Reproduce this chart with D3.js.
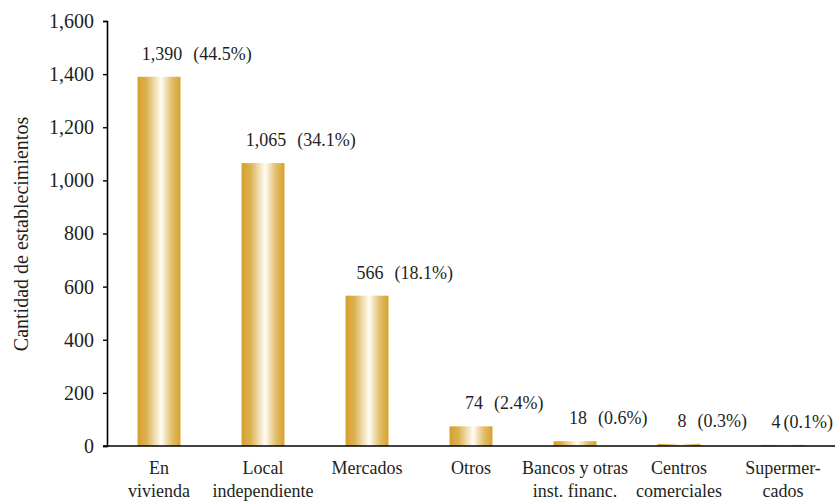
<!DOCTYPE html>
<html>
<head>
<meta charset="utf-8">
<script src="https://cdn.jsdelivr.net/npm/d3@7"></script>
<style>
  html, body { margin: 0; padding: 0; background: #fff; }
  svg { display: block; }
  text { font-family: "Liberation Serif", "Times New Roman", serif; fill: #231f20; }
</style>
</head>
<body>
<svg id="chart" width="835" height="501"></svg>
<script>
const categories = ["En|vivienda", "Local|independiente", "Mercados", "Otros", "Bancos y otras|inst. financ.", "Centros|comerciales", "Supermer-|cados"];
const values = [1390, 1065, 566, 74, 18, 8, 4];
const valueLabels = ["1,390", "1,065", "566", "74", "18", "8", "4"];
const pctLabels = ["(44.5%)", "(34.1%)", "(18.1%)", "(2.4%)", "(0.6%)", "(0.3%)", "(0.1%)"];
const yTicks = [0, 200, 400, 600, 800, 1000, 1200, 1400, 1600];
const yTitle = "Cantidad de establecimientos";

const svg = d3.select("#chart");
const mLeft = 107, mRight = 835, mTop = 21, mBottom = 446;

const x = d3.scaleBand().domain(categories).range([mLeft, mRight]).paddingInner(0.587).paddingOuter(0.2935);
const y = d3.scaleLinear().domain([0, 1600]).range([mBottom, mTop]);

const defs = svg.append("defs");
const grad = defs.append("linearGradient").attr("id", "gold").attr("x1", "0%").attr("x2", "100%").attr("y1", "0%").attr("y2", "0%");
grad.append("stop").attr("offset", "0%").attr("stop-color", "#d6a12c");
grad.append("stop").attr("offset", "20%").attr("stop-color", "#dcb04e");
grad.append("stop").attr("offset", "55%").attr("stop-color", "#fffdf6");
grad.append("stop").attr("offset", "80%").attr("stop-color", "#e2bd6a");
grad.append("stop").attr("offset", "100%").attr("stop-color", "#d6a12c");

// bars
svg.append("g").selectAll("rect").data(values).join("rect")
  .attr("x", (d, i) => x(categories[i]))
  .attr("width", x.bandwidth())
  .attr("y", d => y(d))
  .attr("height", d => y(0) - y(d))
  .attr("fill", "url(#gold)");

// y axis
const yAxis = d3.axisLeft(y).tickValues(yTicks).tickSize(4).tickPadding(9).tickFormat(d3.format(","));
const gy = svg.append("g").attr("transform", `translate(${mLeft},0)`).call(yAxis);
gy.select(".domain").attr("stroke", "#000").attr("stroke-width", 1.6);
gy.selectAll(".tick line").attr("stroke", "#000").attr("stroke-width", 1.4);
gy.selectAll(".tick text").style("font-size", "20px").style("font-family", "'Liberation Serif', serif").attr("fill", "#231f20");

// x axis line
svg.append("line").attr("x1", mLeft - 4).attr("x2", mRight).attr("y1", y(0)).attr("y2", y(0))
  .attr("stroke", "#000").attr("stroke-width", 1.6);

// category labels
const cat = svg.append("g").selectAll("text").data(categories).join("text")
  .attr("text-anchor", "middle")
  .style("font-size", "18px");
cat.each(function(d) {
  const t = d3.select(this);
  const cx = x(d) + x.bandwidth() / 2;
  d.split("|").forEach((line, j) => {
    t.append("tspan").attr("x", cx).attr("y", 474 + j * 23).text(line);
  });
});

// value labels with percentage
const vl = svg.append("g");
const limit = 833;
values.forEach((v, i) => {
  const cx = x(categories[i]) + x.bandwidth() / 2;
  const ty = y(v) - 17;
  const t = vl.append("text").attr("y", ty).attr("text-anchor", "start")
    .style("font-size", "18px").text(valueLabels[i]);
  const p = vl.append("text").attr("y", ty).attr("text-anchor", "start")
    .style("font-size", "18px").text(pctLabels[i]);
  const w = t.node().getComputedTextLength();
  const pw = p.node().getComputedTextLength();
  let gap = 11;
  let start = cx + 3 - w / 2;
  let end = start + w + gap + pw;
  if (end > limit) {
    gap = 3;
    end = start + w + gap + pw;
    if (end > limit) start -= end - limit;
  }
  t.attr("x", start);
  p.attr("x", start + w + gap);
});

// y title
svg.append("text")
  .attr("transform", `translate(28, 234) rotate(-90)`)
  .attr("text-anchor", "middle")
  .style("font-size", "20px")
  .text(yTitle);
</script>
</body>
</html>
